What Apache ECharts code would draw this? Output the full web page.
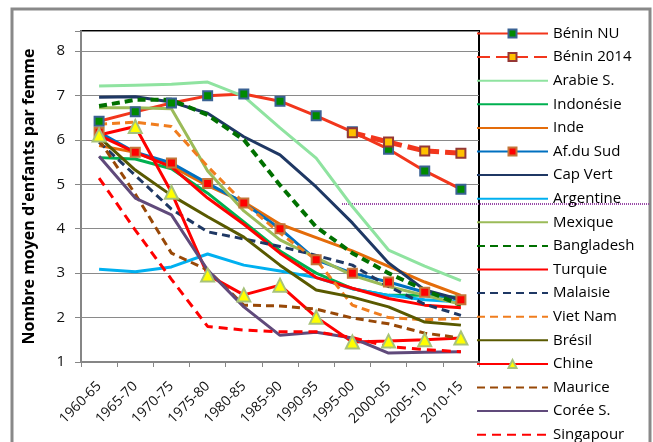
<!DOCTYPE html>
<html>
<head>
<meta charset="utf-8">
<script src="https://cdn.jsdelivr.net/npm/echarts@6/dist/echarts.min.js"></script>
<style>
  html, body { margin: 0; padding: 0; background: #fff; }
  #chart { width: 653px; height: 442px; }
</style>
</head>
<body>
<div id="chart"></div>
<script>
// périodes quinquennales
const periodes = ['1960-65', '1965-70', '1970-75', '1975-80', '1980-85', '1985-90',
  '1990-95', '1995-00', '2000-05', '2005-10', '2010-15'];

// nombre moyen d'enfants par femme
const beninNU    = [6.42, 6.63, 6.83, 6.99, 7.03, 6.87, 6.54, 6.18, 5.79, 5.30, 4.89];
const benin2014  = [null, null, null, null, null, null, null, 6.16, 5.95, 5.75, 5.70];
const arabie     = [7.21, 7.23, 7.25, 7.30, 6.98, 6.27, 5.59, 4.50, 3.52, 3.16, 2.83];
const indonesie  = [5.60, 5.57, 5.35, 4.80, 4.15, 3.50, 3.00, 2.65, 2.50, 2.50, 2.45];
const inde       = [5.87, 5.72, 5.41, 4.97, 4.60, 4.10, 3.80, 3.50, 3.15, 2.80, 2.50];
const afSud      = [6.17, 5.72, 5.48, 5.02, 4.58, 4.00, 3.30, 3.00, 2.80, 2.57, 2.40];
const capVert    = [6.96, 6.97, 6.85, 6.60, 6.07, 5.66, 4.94, 4.13, 3.23, 2.62, 2.40];
const argentine  = [3.09, 3.03, 3.14, 3.43, 3.18, 3.05, 2.90, 2.65, 2.50, 2.40, 2.35];
const mexique    = [6.72, 6.72, 6.70, 5.30, 4.40, 3.75, 3.35, 2.95, 2.70, 2.50, 2.30];
const bangladesh = [6.76, 6.90, 6.90, 6.56, 6.00, 4.98, 4.04, 3.45, 3.00, 2.62, 2.28];
const turquie    = [6.10, 5.72, 5.39, 4.69, 4.10, 3.45, 2.90, 2.66, 2.43, 2.28, 2.22];
const malaisie   = [5.95, 5.20, 4.44, 3.93, 3.77, 3.60, 3.40, 3.18, 2.70, 2.30, 2.05];
const vietNam    = [6.35, 6.40, 6.30, 5.40, 4.58, 3.90, 3.30, 2.28, 2.00, 1.95, 1.98];
const bresil     = [6.06, 5.32, 4.75, 4.27, 3.81, 3.18, 2.62, 2.46, 2.24, 1.90, 1.83];
const chine      = [6.11, 6.30, 4.82, 2.96, 2.51, 2.73, 2.01, 1.45, 1.47, 1.50, 1.54];
const maurice    = [6.00, 4.78, 3.45, 3.07, 2.28, 2.26, 2.19, 1.99, 1.86, 1.65, 1.54];
const coree      = [5.63, 4.69, 4.31, 3.07, 2.24, 1.60, 1.67, 1.54, 1.20, 1.22, 1.23];
const singapour  = [5.14, 3.97, 2.86, 1.80, 1.72, 1.68, 1.68, 1.55, 1.35, 1.28, 1.23];

const police = 'Open Sans';

function courbe(name, data, color, width, dash, marker) {
  const s = {
    name: name,
    type: 'line',
    data: data,
    symbol: 'none',
    connectNulls: false,
    lineStyle: { color: color, width: width, type: dash || 'solid' },
    itemStyle: { color: color },
    emphasis: { disabled: true }
  };
  if (marker) {
    s.symbol = marker.symbol;
    s.symbolSize = marker.size;
    s.itemStyle = { color: marker.fill, borderColor: marker.border, borderWidth: 2 };
  }
  return s;
}

const series = [
  courbe('Bénin NU', beninNU, '#f2361c', 3, 'solid',
    { symbol: 'rect', size: 9, fill: '#008a00', border: '#3a6294' }),
  courbe('Bénin 2014', benin2014, '#f2361c', 5, [13, 6],
    { symbol: 'rect', size: 9, fill: '#ffc000', border: '#953735' }),
  courbe('Arabie S.', arabie, '#8fe3a0', 3),
  courbe('Indonésie', indonesie, '#00b050', 3),
  courbe('Inde', inde, '#e46c0a', 3),
  courbe('Af.du Sud', afSud, '#0070c0', 3, 'solid',
    { symbol: 'rect', size: 9, fill: '#ff0000', border: '#c3773a' }),
  courbe('Cap Vert', capVert, '#1f3864', 3),
  courbe('Argentine', argentine, '#00b0f0', 3),
  courbe('Mexique', mexique, '#9bbb59', 3),
  courbe('Bangladesh', bangladesh, '#007000', 4, [8, 5]),
  courbe('Turquie', turquie, '#ff0000', 3),
  courbe('Malaisie', malaisie, '#1f3864', 3, [8, 5]),
  courbe('Viet Nam', vietNam, '#f07d1e', 3, [8, 5]),
  courbe('Brésil', bresil, '#595900', 3),
  courbe('Chine', chine, '#ff0000', 3, 'solid',
    { symbol: 'triangle', size: 13, fill: '#ffff00', border: '#a7c27a' }),
  courbe('Maurice', maurice, '#984807', 3, [8, 5]),
  courbe('Corée S.', coree, '#604a7b', 3),
  courbe('Singapour', singapour, '#ff0000', 3, [9, 6])
];

// pas de symbole dans la légende pour les courbes sans marqueur
const legendData = series.map(s => s.symbol === 'none'
  ? { name: s.name, itemStyle: { opacity: 0 } }
  : { name: s.name });

const chart = echarts.init(document.getElementById('chart'));

chart.setOption({
  animation: false,
  backgroundColor: '#fff',
  textStyle: { fontFamily: police },
  graphic: [
    {
      type: 'rect', silent: true, z: -1,
      shape: { x: 12, y: 9, width: 638, height: 460 },
      style: { fill: 'none', stroke: '#898989', lineWidth: 3 }
    },
    {
      type: 'line', silent: true,
      shape: { x1: 342, y1: 204, x2: 650, y2: 204 },
      style: { stroke: '#9a4aa8', lineWidth: 2, lineDash: [1, 1] }
    }
  ],
  grid: {
    left: 81, top: 31, right: 174, bottom: 80,
    show: true, borderColor: '#000', borderWidth: 2, backgroundColor: 'transparent'
  },
  legend: {
    orient: 'vertical',
    left: 476, top: 26, height: 440,
    itemWidth: 71, itemHeight: 10, itemGap: 8.6,
    padding: 0,
    data: legendData,
    textStyle: { fontFamily: police, fontSize: 15, color: '#000' },
    selectedMode: false
  },
  xAxis: {
    type: 'category',
    data: periodes,
    boundaryGap: true,
    axisLine: { lineStyle: { color: '#868686', width: 2 } },
    axisTick: { show: true, length: 5, lineStyle: { color: '#868686', width: 1 } },
    axisLabel: { rotate: 45, margin: 22, fontSize: 14, color: '#111', fontFamily: police, interval: 0 },
    splitLine: { show: false }
  },
  yAxis: {
    type: 'value',
    min: 1, max: 8.45, interval: 1,
    name: "Nombre moyen d'enfants par femme",
    nameLocation: 'middle',
    nameGap: 44,
    nameTextStyle: { fontFamily: police, fontWeight: 'bold', fontSize: 16, color: '#000' },
    axisLine: { show: true, lineStyle: { color: '#868686', width: 2 } },
    axisTick: { show: true, length: 6, lineStyle: { color: '#868686', width: 1 } },
    axisLabel: {
      margin: 16, fontSize: 15, color: '#111', fontFamily: police,
      formatter: v => (Number.isInteger(v) ? String(v) : '')
    },
    splitLine: { lineStyle: { color: '#8a8a8a', width: 1 } }
  },
  series: series
});
</script>
</body>
</html>
